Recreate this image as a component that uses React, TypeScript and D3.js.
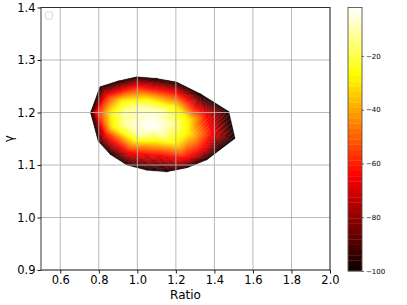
import React, { useEffect, useRef } from 'react';
import * as d3 from 'd3';

// scattered samples (Ratio, gamma, value) – outer rim sits at -100
const sampleRatio = [
  0.757, 0.806, 0.9, 0.997, 1.1, 1.204, 1.33, 1.475, 1.507, 1.43, 1.36, 1.26, 1.152, 1.05, 0.945, 0.86, 0.797,
  0.785, 0.835, 1.0, 1.2, 1.36, 1.39, 1.34, 1.25, 1.12, 0.96, 0.83,
  0.86, 0.92, 1.05, 1.2, 1.27, 1.27, 1.2, 1.1, 0.97, 0.87,
  0.94, 1.02, 1.12, 1.17, 1.12, 1.02, 0.95,
  1.06, 1.09,
];
const sampleGamma = [
  1.2, 1.249, 1.26, 1.268, 1.265, 1.258, 1.235, 1.202, 1.151, 1.13, 1.11, 1.095, 1.087, 1.09, 1.1, 1.12, 1.145,
  1.2, 1.232, 1.25, 1.238, 1.195, 1.16, 1.13, 1.112, 1.118, 1.123, 1.158,
  1.2, 1.222, 1.226, 1.212, 1.185, 1.16, 1.14, 1.144, 1.148, 1.172,
  1.198, 1.21, 1.203, 1.178, 1.157, 1.157, 1.175,
  1.178, 1.172,
];
const sampleValue = [
  -100, -100, -100, -100, -100, -100, -100, -100, -100, -100, -100, -100, -100, -100, -100, -100, -100,
  -65, -65, -65, -65, -65, -65, -65, -65, -65, -65, -65,
  -30, -30, -30, -30, -30, -30, -30, -30, -30, -30,
  -10, -10, -10, -10, -10, -10, -10,
  -2, -2,
];

const xTicks = [0.6, 0.8, 1.0, 1.2, 1.4, 1.6, 1.8, 2.0];
const yTicks = [0.9, 1.0, 1.1, 1.2, 1.3, 1.4];
const cbarTicks = [-20, -40, -60, -80, -100];
const zMin = -100;
const zMax = -2;
const levelCount = 50;

// matplotlib "hot"
const hot = (t: number) => {
  const c = (v: number) => Math.max(0, Math.min(1, v));
  const r = c(0.0416 + (1 - 0.0416) * t / 0.365079);
  const g = c((t - 0.365079) / (0.746032 - 0.365079));
  const b = c((t - 0.746032) / (1 - 0.746032));
  return d3.rgb(r * 255, g * 255, b * 255).formatHex();
};

type P = [number, number, number];

const clip = (poly: P[], lvl: number, keepAbove: boolean) => {
  const out: P[] = [];
  for (let i = 0; i < poly.length; i++) {
    const p = poly[i], q = poly[(i + 1) % poly.length];
    const pin = keepAbove ? p[2] >= lvl : p[2] <= lvl;
    const qin = keepAbove ? q[2] >= lvl : q[2] <= lvl;
    if (pin) out.push(p);
    if (pin !== qin) {
      const t = (lvl - p[2]) / (q[2] - p[2]);
      out.push([p[0] + t * (q[0] - p[0]), p[1] + t * (q[1] - p[1]), lvl]);
    }
  }
  return out;
};

const App = () => {
  const svgRef = useRef<SVGSVGElement>(null);

  useEffect(() => {
    document.body.style.margin = '0';
    const svg = d3.select(svgRef.current);
    svg.selectAll('*').remove();

    const left = 41, right = 330, top = 7.5, bottom = 270;
    const x = d3.scaleLinear().domain([0.5, 2.0]).range([left, right]);
    const y = d3.scaleLinear().domain([0.9, 1.4]).range([bottom, top]);
    const font = 'DejaVu Sans';

    const levels = d3.range(levelCount + 1).map(i => zMin + (i * (zMax - zMin)) / levelCount);
    const bandColor = (i: number) => hot(((levels[i] + levels[i + 1]) / 2 - zMin) / (zMax - zMin));

    // tricontourf
    const pts: P[] = sampleRatio.map((r, i) => [x(r), y(sampleGamma[i]), sampleValue[i]]);
    const delaunay = d3.Delaunay.from(pts, p => p[0], p => p[1]);
    const tris = delaunay.triangles;
    const bandPaths: string[] = levels.slice(0, -1).map(() => '');
    for (let t = 0; t < tris.length; t += 3) {
      const tri: P[] = [pts[tris[t]], pts[tris[t + 1]], pts[tris[t + 2]]];
      for (let i = 0; i < levelCount; i++) {
        let poly = clip(tri, levels[i], true);
        if (poly.length < 3) continue;
        poly = clip(poly, levels[i + 1], false);
        if (poly.length < 3) continue;
        bandPaths[i] += 'M' + poly.map(p => `${p[0].toFixed(2)},${p[1].toFixed(2)}`).join('L') + 'Z';
      }
    }
    const contour = svg.append('g');
    bandPaths.forEach((d, i) => {
      if (!d) return;
      contour.append('path').attr('d', d).attr('fill', bandColor(i))
        .attr('stroke', bandColor(i)).attr('stroke-width', 0.35).attr('stroke-linejoin', 'round');
    });

    // grid on top
    const grid = svg.append('g').attr('stroke', '#b0b0b0').attr('stroke-width', 0.9);
    xTicks.forEach(v => grid.append('line').attr('x1', x(v)).attr('x2', x(v)).attr('y1', top).attr('y2', bottom));
    yTicks.forEach(v => grid.append('line').attr('x1', left).attr('x2', right).attr('y1', y(v)).attr('y2', y(v)));

    const xAxis = svg.append('g').attr('transform', `translate(0,${bottom})`)
      .call(d3.axisBottom(x).tickValues(xTicks).tickFormat(d3.format('.1f')).tickSize(3.5).tickPadding(2));
    const yAxis = svg.append('g').attr('transform', `translate(${left},0)`)
      .call(d3.axisLeft(y).tickValues(yTicks).tickFormat(d3.format('.1f')).tickSize(3.5).tickPadding(2));
    [xAxis, yAxis].forEach(a => {
      a.select('.domain').remove();
      a.selectAll('text').attr('font-family', font).attr('font-size', 11.5).attr('fill', '#000');
      a.selectAll('line').attr('stroke', '#000').attr('stroke-width', 0.9);
    });

    svg.append('rect').attr('x', left).attr('y', top).attr('width', right - left).attr('height', bottom - top)
      .attr('fill', 'none').attr('stroke', '#222').attr('stroke-width', 0.9);

    // empty legend frame
    svg.append('rect').attr('x', 45.5).attr('y', 12).attr('width', 7).attr('height', 7).attr('rx', 1.2)
      .attr('fill', '#fff').attr('stroke', '#d6d6d6').attr('stroke-width', 0.9);

    svg.append('text').attr('x', (left + right) / 2).attr('y', 299).attr('text-anchor', 'middle')
      .attr('font-family', font).attr('font-size', 12).text('Ratio');
    svg.append('text').attr('transform', `translate(13,${(top + bottom) / 2}) rotate(-90)`)
      .attr('text-anchor', 'middle').attr('font-family', font).attr('font-size', 12).text('γ');

    // colorbar
    const cx0 = 348, cx1 = 362;
    const cy = d3.scaleLinear().domain([zMin, zMax]).range([271, 7.5]);
    const cbar = svg.append('g');
    levels.slice(0, -1).forEach((l, i) => {
      cbar.append('rect').attr('x', cx0).attr('width', cx1 - cx0)
        .attr('y', cy(levels[i + 1])).attr('height', cy(l) - cy(levels[i + 1]) + 0.3)
        .attr('fill', bandColor(i));
    });
    cbar.append('rect').attr('x', cx0).attr('y', cy(zMax)).attr('width', cx1 - cx0).attr('height', cy(zMin) - cy(zMax))
      .attr('fill', 'none').attr('stroke', '#555').attr('stroke-width', 0.9);
    const cAxis = svg.append('g').attr('transform', `translate(${cx1},0)`)
      .call(d3.axisRight(cy).tickValues(cbarTicks).tickFormat(d => `\u2212${Math.abs(+d)}`).tickSize(2).tickPadding(2));
    cAxis.select('.domain').remove();
    cAxis.selectAll('text').attr('font-family', font).attr('font-size', 7).attr('fill', '#000');
    cAxis.selectAll('line').attr('stroke', '#000').attr('stroke-width', 0.6);
  }, []);

  return <svg ref={svgRef} width={407} height={305} style={{ display: 'block', background: '#fff' }} />;
};

export default App;
